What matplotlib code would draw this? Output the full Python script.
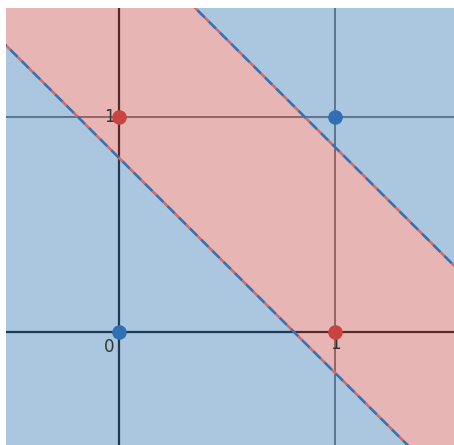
import matplotlib.pyplot as plt
import numpy as np

# XOR inputs and classes
xs = [0, 0, 1, 1]
ys = [0, 1, 0, 1]
cls = [0, 1, 1, 0]

# decision boundaries x + y = c
offsets = [0.81, 1.86]

xlim = (-0.523, 1.551)
ylim = (-0.526, 1.507)

# translucent region fills drawn over the grid lines, so the lines pick up the tint
fill_alpha = 0.45
blue_fill = '#4581b8'
red_fill = '#cc5b5b'
pt_colors = {0: '#2f6fb4', 1: '#c84441'}

fig = plt.figure(figsize=(4.54, 4.45), dpi=100)
ax = fig.add_axes([6 / 454, 0, 448 / 454, 437 / 445])
ax.set_facecolor('white')

# grid through the inputs (under the fills)
ax.axvline(0, color='black', lw=1.6, zorder=1)
ax.axhline(0, color='black', lw=1.6, zorder=1)
ax.axvline(1, color='#606060', lw=1.3, zorder=1)
ax.axhline(1, color='#606060', lw=1.3, zorder=1)

xx = np.array([xlim[0] - 1, xlim[1] + 1])
ax.fill_between(xx, ylim[0] - 5, offsets[0] - xx, color=blue_fill,
                alpha=fill_alpha, lw=0, zorder=2)
ax.fill_between(xx, offsets[0] - xx, offsets[1] - xx, color=red_fill,
                alpha=fill_alpha, lw=0, zorder=2)
ax.fill_between(xx, offsets[1] - xx, ylim[1] + 5, color=blue_fill,
                alpha=fill_alpha, lw=0, zorder=2)

for c in offsets:
    ax.plot(xx, c - xx, color='#3a6fb0', lw=1.9, ls=(0, (4, 2)),
            gapcolor='#d46a6a', zorder=3)

for x, y, k in zip(xs, ys, cls):
    ax.scatter(x, y, s=110, color=pt_colors[k], zorder=4, lw=0)

ax.text(-0.02, -0.03, '0', ha='right', va='top', fontsize=12, color='#333333', zorder=5)
ax.text(-0.02, 1.0, '1', ha='right', va='center', fontsize=12, color='#333333', zorder=3)
ax.text(1.0, -0.015, '1', ha='center', va='top', fontsize=12, color='#333333', zorder=3)

ax.set_xlim(*xlim)
ax.set_ylim(*ylim)
ax.set_xticks([])
ax.set_yticks([])
for s in ax.spines.values():
    s.set_visible(False)

fig.savefig('out.png', dpi=100)
